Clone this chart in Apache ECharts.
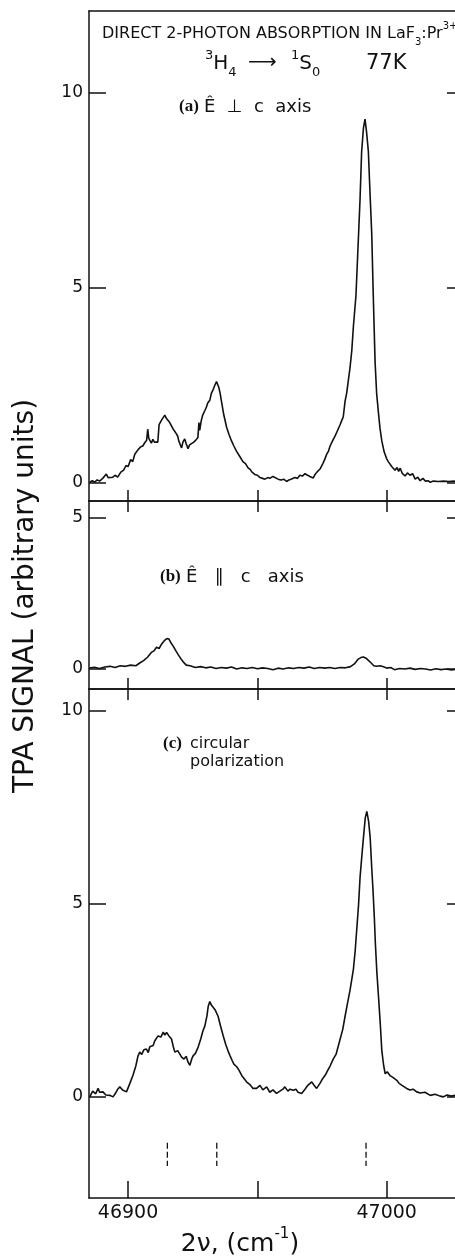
<!DOCTYPE html>
<html><head><meta charset="utf-8">
<script src="https://cdn.jsdelivr.net/npm/echarts@6/dist/echarts.min.js"></script>
<style>html,body{margin:0;padding:0;background:#fff}#c{width:455px;height:1260px}</style>
</head><body><div id="c"></div>
<script>
// ---- data (wavenumber in cm^-1, TPA signal in arbitrary units) ----
const nuA = [46885.2,46886.2,46887.1,46888.0,46889.0,46890.2,46891.6,46892.3,46892.9,46894.1,46895.0,46896.0,46897.2,46898.3,46899.2,46900.0,46901.0,46901.8,46902.6,46903.2,46903.8,46904.4,46904.9,46905.7,46906.5,46907.2,46907.6,46908.0,46908.4,46909.0,46909.6,46910.2,46910.7,46911.5,46912.0,46912.3,46913.0,46913.4,46914.2,46914.8,46915.4,46916.1,46916.8,46917.3,46917.7,46918.7,46919.2,46919.6,46920.2,46920.7,46921.2,46921.9,46922.5,46923.2,46923.8,46924.3,46925.4,46926.2,46927.0,46927.4,46927.7,46928.3,46928.9,46929.7,46930.3,46930.8,46931.6,46932.2,46932.8,46933.5,46934.2,46934.7,46935.1,46935.6,46936.1,46937.0,46938.1,46939.0,46939.5,46940.0,46940.9,46941.9,46942.5,46943.2,46944.4,46945.4,46946.4,46947.2,46947.9,46949.0,46950.0,46951.0,46952.0,46952.9,46954.0,46954.8,46956.0,46956.7,46958.0,46959.1,46960.2,46961.3,46962.2,46963.0,46964.5,46965.5,46966.4,46967.4,46968.4,46969.4,46970.3,46971.6,46972.3,46973.0,46974.2,46975.3,46976.0,46976.8,46977.5,46978.1,46979.2,46980.0,46980.7,46981.2,46982.0,46982.6,46983.2,46983.9,46984.5,46985.0,46985.8,46986.5,46987.1,46988.1,46989.0,46989.7,46990.3,46991.0,46991.6,46992.2,46992.9,46993.5,46994.2,46994.8,46995.5,46996.1,46996.8,46997.4,46998.1,46999.0,47000.0,47000.6,47001.3,47002.0,47002.6,47003.2,47004.0,47004.6,47005.2,47006.0,47006.5,47007.1,47008.0,47009.0,47010.0,47011.0,47012.0,47012.9,47014.0,47014.9,47016.0,47016.8,47018.0,47018.7,47020.0,47020.6,47022.0,47022.6,47024.0,47024.5,47026.0,47027.0,47029.0];
const sigA = [0.02,0.06,0.02,0.08,0.05,0.12,0.23,0.14,0.18,0.15,0.20,0.15,0.28,0.33,0.45,0.42,0.60,0.55,0.74,0.70,0.85,0.80,0.93,0.95,1.04,1.10,1.38,1.15,1.10,1.02,1.12,1.05,1.10,1.05,1.50,1.45,1.62,1.58,1.74,1.66,1.68,1.55,1.52,1.40,1.42,1.26,1.20,1.08,0.98,0.90,1.05,1.13,1.00,0.88,0.98,1.02,1.05,1.10,1.17,1.55,1.35,1.60,1.75,1.86,1.95,2.05,2.12,2.30,2.38,2.50,2.60,2.55,2.45,2.30,2.10,1.75,1.43,1.25,1.30,1.08,0.95,0.82,0.85,0.68,0.55,0.50,0.39,0.35,0.28,0.22,0.20,0.14,0.12,0.10,0.14,0.12,0.17,0.13,0.10,0.08,0.10,0.04,0.08,0.10,0.14,0.12,0.20,0.18,0.24,0.20,0.17,0.13,0.22,0.28,0.36,0.50,0.60,0.74,0.82,0.95,1.10,1.20,1.25,1.38,1.50,1.60,1.70,2.10,2.30,2.55,2.95,3.40,4.00,4.80,6.20,7.30,8.50,9.10,9.33,9.00,8.50,7.50,6.40,4.80,3.10,2.30,1.80,1.40,1.08,0.80,0.62,0.55,0.50,0.42,0.38,0.33,0.40,0.30,0.38,0.25,0.30,0.18,0.26,0.20,0.24,0.10,0.15,0.06,0.12,0.05,0.06,0.02,0.05,0.01,0.04,0.00,0.05,0.02,0.04,0.01,0.05,0.02,0.04];

const nuB = [46885,46887,46889,46891,46893,46895,46897,46899,46901,46903,46904.5,46906,46907.5,46909,46910,46911,46912,46913,46914,46915,46915.8,46916.5,46917.5,46918.5,46919.5,46920.5,46921.5,46922.5,46924,46926,46928,46930,46932,46934,46936,46938,46940,46942,46944,46946,46948,46950,46952,46954,46956,46958,46960,46962,46964,46966,46968,46970,46972,46974,46976,46978,46980,46982,46984,46986,46987.5,46989,46990,46991,46992,46993,46994,46995,46996,46997.5,46999,47000,47001.5,47003,47005,47007,47009,47011,47013,47015,47017,47019,47021,47023,47025,47027,47029];
const sigB = [0.03,0.06,0.02,0.07,0.09,0.05,0.11,0.09,0.13,0.11,0.20,0.28,0.39,0.55,0.60,0.72,0.68,0.83,0.94,1.01,0.99,0.88,0.75,0.60,0.46,0.33,0.22,0.13,0.11,0.05,0.08,0.04,0.07,0.02,0.05,0.03,0.07,0.00,0.04,0.02,0.05,0.01,0.04,0.02,-0.02,0.03,0.00,0.04,0.02,0.05,0.03,0.07,0.02,0.05,0.03,0.05,0.02,0.05,0.04,0.08,0.17,0.33,0.38,0.40,0.36,0.28,0.20,0.11,0.09,0.11,0.07,0.03,0.05,-0.02,0.02,0.00,0.03,-0.01,0.02,0.00,-0.03,0.01,-0.02,0.00,-0.03,-0.01,-0.02];

const nuC = [46885.2,46886.3,46887.5,46888.4,46889.0,46890.3,46891.4,46892.9,46894.2,46895.2,46896.0,46896.8,46897.9,46899.4,46900.7,46901.9,46903.0,46903.8,46904.5,46905.3,46906.1,46907.1,46907.8,46908.4,46909.7,46910.3,46911.0,46911.6,46912.7,46913.6,46914.2,46914.9,46915.8,46916.8,46917.5,46918.1,46919.2,46920.7,46921.6,46922.5,46923.2,46923.9,46924.7,46925.2,46926.0,46927.1,46928.1,46928.9,46929.7,46930.5,46931.0,46931.6,46932.2,46932.9,46933.7,46934.8,46935.7,46936.8,46937.8,46938.6,46939.4,46940.2,46940.9,46942.0,46942.8,46944.0,46945.8,46947.1,46948.3,46949.7,46951.0,46952.1,46953.6,46954.8,46956.0,46957.4,46958.7,46959.9,46960.6,46961.8,46962.6,46963.9,46964.9,46965.7,46967.1,46968.4,46969.5,46971.0,46971.9,46972.9,46974.2,46975.0,46976.2,46977.3,46978.1,46979.4,46980.4,46981.2,46982.0,46983.0,46983.9,46984.9,46985.8,46987.1,46987.8,46988.4,46989.1,46989.7,46990.4,46991.0,46991.7,46992.3,46993.0,46993.6,46994.2,46994.7,46995.2,46995.6,46996.2,46996.8,46997.5,46998.1,46998.8,46999.4,47000.2,47001.3,47002.5,47003.9,47004.8,47005.9,47007.7,47009.0,47010.2,47011.6,47012.9,47014.8,47016.8,47018.7,47020.6,47021.9,47023.3,47024.9,47026.5,47028.4];
const sigC = [0.00,0.15,0.08,0.22,0.12,0.13,0.05,0.04,0.00,0.10,0.20,0.26,0.18,0.13,0.35,0.56,0.80,1.05,1.16,1.10,1.22,1.24,1.15,1.30,1.33,1.45,1.40,1.58,1.55,1.68,1.60,1.67,1.58,1.50,1.30,1.16,1.20,1.03,0.98,1.05,0.90,0.82,1.00,1.07,1.12,1.29,1.50,1.70,1.84,2.10,2.35,2.47,2.38,2.42,2.25,2.09,1.85,1.58,1.35,1.20,1.07,0.95,0.85,0.78,0.70,0.55,0.39,0.32,0.22,0.22,0.30,0.18,0.26,0.12,0.18,0.09,0.15,0.20,0.26,0.15,0.20,0.17,0.20,0.12,0.09,0.20,0.30,0.39,0.30,0.22,0.35,0.45,0.56,0.70,0.80,0.99,1.10,1.30,1.50,1.75,2.09,2.45,2.76,3.30,3.78,4.33,4.97,5.70,6.26,6.72,7.23,7.40,7.14,6.72,5.94,5.35,4.66,3.99,3.21,2.62,1.90,1.20,0.82,0.60,0.65,0.55,0.50,0.43,0.35,0.30,0.22,0.18,0.20,0.13,0.10,0.12,0.04,0.07,0.02,0.00,0.05,0.02,0.04,0.01];

// dashed line positions under panel (c)
const markerNu = [46915.2, 46934.3, 46992.0];
const markerSpan = [-1.19, -1.79];

// axis ticks / labels
const xTicks = [46900, 46950, 47000];
const xLabelValues = [46900, 47000];
const yTicksA = [0, 5, 10];
const yTicksB = [0, 5];
const yTicksC = [0, 5, 10];

// ---- layout ----
const X_MIN = 46884.9, X_MAX = 47029.1;
const INK = '#111';
const SANS = 'DejaVu Sans';
const SERIF = 'Liberation Serif';
const gridL = 89, gridW = 373;
const panels = [
  {top: 11,  height: 490, ymin: -0.46, ymax: 12.1,  ticks: yTicksA, topTicks: false, botLen: 11, labels: false},
  {top: 501, height: 188, ymin: -0.66, ymax: 5.56,  ticks: yTicksB, topTicks: true,  botLen: 11, labels: false},
  {top: 689, height: 509, ymin: -2.62, ymax: 10.57, ticks: yTicksC, topTicks: true,  botLen: 17, labels: true}
];
const zip = (a, b) => a.map((v, i) => [v, b[i]]);
const axisLine = {show: true, onZero: false, lineStyle: {color: INK, width: 1.5}};

const grid = [], xAxis = [], yAxis = [];
panels.forEach((p, i) => {
  grid.push({left: gridL, top: p.top, width: gridW, height: p.height, containLabel: false, outerBoundsMode: 'none'});
  xAxis.push({type: 'value', gridIndex: i, position: 'bottom', min: X_MIN, max: X_MAX,
    axisLine, splitLine: {show: false},
    axisTick: {show: true, inside: true, length: p.botLen, customValues: xTicks, lineStyle: {color: INK, width: 1.5}},
    axisLabel: p.labels ? {show: true, customValues: xLabelValues, formatter: v => String(v), margin: 6,
      fontSize: 19, fontFamily: SANS, color: INK} : {show: false}
  });
  xAxis.push({type: 'value', gridIndex: i, position: 'top', min: X_MIN, max: X_MAX,
    axisLine, splitLine: {show: false},
    axisTick: {show: p.topTicks, inside: true, length: 11, customValues: xTicks, lineStyle: {color: INK, width: 1.5}},
    axisLabel: {show: false}
  });
  yAxis.push({type: 'value', gridIndex: i, position: 'left', min: p.ymin, max: p.ymax,
    axisLine, splitLine: {show: false},
    axisTick: {show: true, inside: true, length: 17, customValues: p.ticks, lineStyle: {color: INK, width: 1.5}},
    axisLabel: {show: true, customValues: p.ticks, margin: 6, fontSize: 17, fontFamily: SANS, color: INK}
  });
  yAxis.push({type: 'value', gridIndex: i, position: 'right', min: p.ymin, max: p.ymax,
    axisLine, splitLine: {show: false},
    axisTick: {show: true, inside: true, length: 15, customValues: p.ticks, lineStyle: {color: INK, width: 1.5}},
    axisLabel: {show: false}
  });
});

const curveStyle = {color: INK, width: 1.6};
const series = [
  {type: 'line', xAxisIndex: 0, yAxisIndex: 0, data: zip(nuA, sigA), symbol: 'none', lineStyle: curveStyle, silent: true},
  {type: 'line', xAxisIndex: 2, yAxisIndex: 2, data: zip(nuB, sigB), symbol: 'none', lineStyle: curveStyle, silent: true},
  {type: 'line', xAxisIndex: 4, yAxisIndex: 4, data: zip(nuC, sigC), symbol: 'none', lineStyle: curveStyle, silent: true}
];
markerNu.forEach(n => series.push({type: 'line', xAxisIndex: 4, yAxisIndex: 4, symbol: 'none', silent: true,
  data: markerSpan.map(s => [n, s]), lineStyle: {color: INK, width: 1.3, type: [6, 3]}}));

const supsub = (fs, small) => ({
  n: {fontSize: fs, fontFamily: SANS, lineHeight: fs + 10, color: INK},
  sup: {fontSize: small, fontFamily: SANS, lineHeight: small, verticalAlign: 'top', color: INK},
  sub: {fontSize: small, fontFamily: SANS, lineHeight: small, verticalAlign: 'bottom', color: INK}
});
const txt = (x, y, text, opts = {}) => ({type: 'text', x, y, silent: true, rotation: opts.rotation || 0,
  style: Object.assign({text, fill: INK, fontSize: opts.fontSize || 16, fontFamily: opts.fontFamily || SANS,
    fontWeight: opts.fontWeight || 'normal', textAlign: opts.align || 'left', textVerticalAlign: 'middle'},
    opts.rich ? {rich: opts.rich} : {}, opts.lineHeight ? {lineHeight: opts.lineHeight} : {})});

const graphic = [
  txt(102, 34, '{n|DIRECT 2-PHOTON ABSORPTION IN LaF}{sub|3}{n|:Pr}{sup|3+}', {rich: supsub(16, 10)}),
  txt(205, 64, '{sup|3}{n|H}{sub|4}', {rich: supsub(20, 13)}),
  txt(248, 63, '⟶', {fontSize: 20}),
  txt(291, 64, '{sup|1}{n|S}{sub|0}', {rich: supsub(20, 13)}),
  txt(366, 64, '77K', {fontSize: 21}),
  txt(179, 107, '(a)', {fontSize: 17, fontFamily: SERIF, fontWeight: 'bold'}),
  txt(204, 107, 'Ê  ⊥  c  axis', {fontSize: 18}),
  txt(160, 577, '(b)', {fontSize: 17, fontFamily: SERIF, fontWeight: 'bold'}),
  txt(186, 577, 'Ê   ∥   c   axis', {fontSize: 18}),
  txt(163, 744, '(c)', {fontSize: 17, fontFamily: SERIF, fontWeight: 'bold'}),
  txt(190, 753, 'circular\npolarization', {fontSize: 16, lineHeight: 18}),
  txt(26, 596, 'TPA SIGNAL (arbitrary units)', {fontSize: 28, rotation: Math.PI / 2, align: 'center'}),
  txt(240, 1244, '{n|2ν, (cm}{sup|-1}{n|)}', {align: 'center', rich: supsub(25, 15)})
];

const chart = echarts.init(document.getElementById('c'), null, {renderer: 'canvas'});
chart.setOption({animation: false, backgroundColor: '#fff', grid, xAxis, yAxis, series, graphic});
</script>
</body></html>
